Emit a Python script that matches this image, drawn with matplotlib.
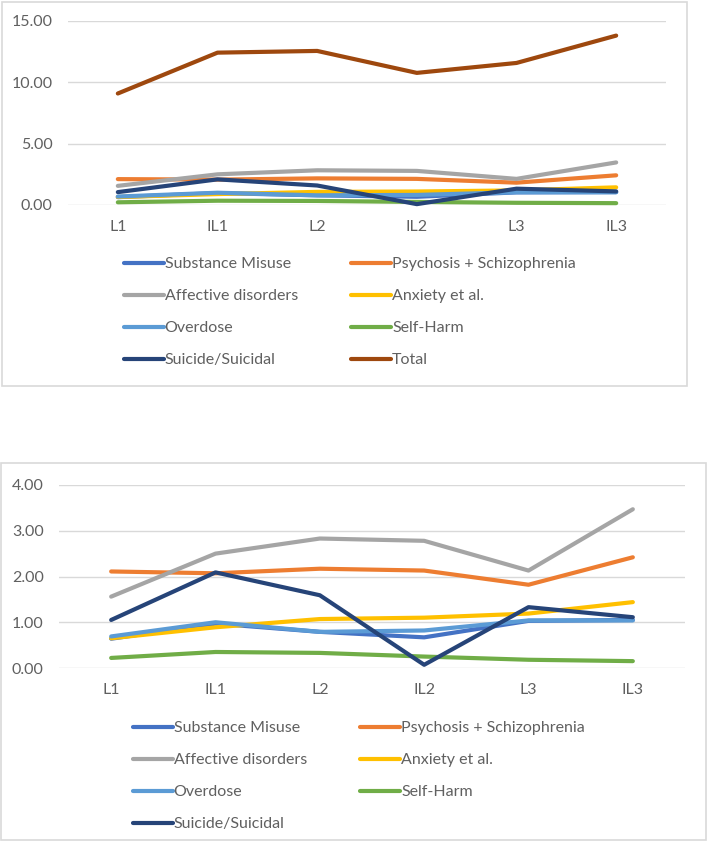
import matplotlib
matplotlib.use("Agg")
import matplotlib.pyplot as plt
from matplotlib.patches import Rectangle
from matplotlib.ticker import FormatStrFormatter

plt.rcParams['font.family'] = ['Lato', 'DejaVu Sans']

categories = ["L1", "IL1", "L2", "IL2", "L3", "IL3"]
substance_misuse = [0.64, 0.97, 0.79, 0.67, 1.03, 1.05]
psychosis = [2.11, 2.07, 2.17, 2.13, 1.82, 2.42]
affective = [1.56, 2.50, 2.83, 2.78, 2.13, 3.47]
anxiety = [0.65, 0.89, 1.07, 1.10, 1.19, 1.44]
overdose = [0.69, 1.00, 0.79, 0.82, 1.04, 1.04]
self_harm = [0.22, 0.35, 0.33, 0.25, 0.18, 0.15]
suicide = [1.05, 2.09, 1.59, 0.07, 1.33, 1.11]
total = [9.09, 12.42, 12.56, 10.77, 11.58, 13.81]

series = [
    ("Substance Misuse", substance_misuse, "#4472C4"),
    ("Psychosis + Schizophrenia", psychosis, "#ED7D31"),
    ("Affective disorders", affective, "#A5A5A5"),
    ("Anxiety et al.", anxiety, "#FFC000"),
    ("Overdose", overdose, "#5B9BD5"),
    ("Self-Harm", self_harm, "#70AD47"),
    ("Suicide/Suicidal", suicide, "#264478"),
]
total_series = ("Total", total, "#9E480E")

W, H = 708, 841
fig = plt.figure(figsize=(W / 100, H / 100), dpi=100)

def fx(px):
    return px / W

def fy(py):
    return 1 - py / H

# chart area borders
for (x0, y0, x1, y1) in [(2, 2, 687, 386), (1, 463, 706, 840)]:
    fig.patches.append(Rectangle((fx(x0), fy(y1)), fx(x1 - x0), (y1 - y0) / H,
                                 transform=fig.transFigure, fill=False,
                                 edgecolor="#D9D9D9", linewidth=1.2))

tick_color = "#606060"
fs = 11.5

def style_axes(ax, ymax, step):
    ax.set_ylim(0, ymax)
    ax.set_xlim(-0.5, len(categories) - 0.5)
    ax.set_yticks([i * step for i in range(int(ymax / step) + 1)])
    ax.yaxis.set_major_formatter(FormatStrFormatter("%.2f"))
    ax.set_xticks(range(len(categories)))
    ax.set_xticklabels(categories)
    for s in ax.spines.values():
        s.set_visible(False)
    ax.tick_params(axis="both", length=0, labelsize=fs, colors=tick_color)
    ax.tick_params(axis="y", pad=11)
    ax.tick_params(axis="x", pad=11)
    ax.grid(axis="y", color="#D9D9D9", linewidth=1.0)
    ax.set_axisbelow(True)
    ax.set_facecolor("none")

def draw(ax, items, legend_anchor):
    handles = {}
    x = list(range(len(categories)))
    for name, vals, col in items:
        (h,) = ax.plot(x, vals, color=col, linewidth=3.0, solid_capstyle="round",
                       solid_joinstyle="round", label=name, clip_on=False)
        handles[name] = h
    names = [n for n, _, _ in items]
    left = names[0::2]
    right = names[1::2]
    order = left + right
    leg = fig.legend([handles[n] for n in order], order, loc="upper left",
                     bbox_to_anchor=legend_anchor, ncol=2, frameon=False,
                     fontsize=fs, handlelength=2.5, handletextpad=0.05,
                     columnspacing=3.35, labelspacing=1.12, borderaxespad=0,
                     borderpad=0)
    for t in leg.get_texts():
        t.set_color(tick_color)

ax1 = fig.add_axes([fx(68), fy(205), fx(666 - 68), (205 - 21) / H])
style_axes(ax1, 15, 5)
draw(ax1, series + [total_series], (fx(124), fy(257)))

ax2 = fig.add_axes([fx(59), fy(668), fx(685 - 59), (668 - 485) / H])
style_axes(ax2, 4, 1)
draw(ax2, series, (fx(133), fy(721)))

fig.savefig("out.png", dpi=100)
